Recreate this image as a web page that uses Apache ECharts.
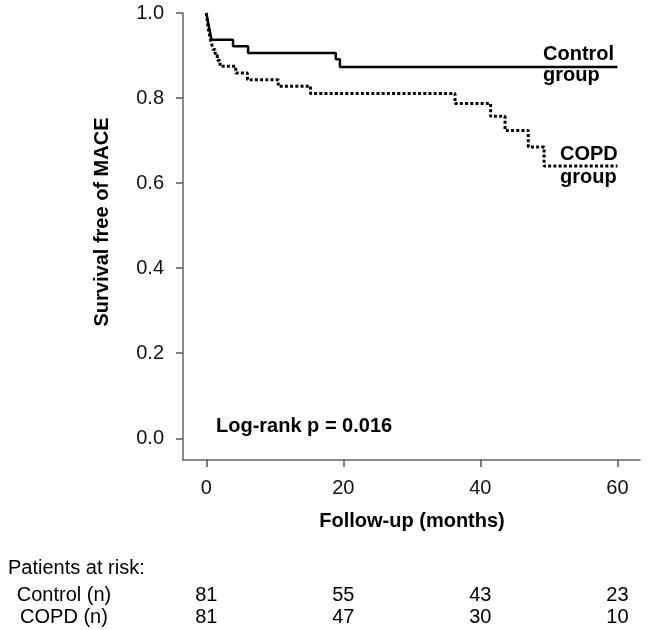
<!DOCTYPE html>
<html>
<head>
<meta charset="utf-8">
<script src="https://cdn.jsdelivr.net/npm/echarts@6/dist/echarts.min.js"></script>
<style>
html,body{margin:0;padding:0;background:#fff;}
#chart{width:649px;height:630px;}
</style>
</head>
<body>
<div id="chart"></div>
<script>
// Data
const controlTime = [0, 0.15, 0.3, 0.45, 0.6, 0.75, 3.9, 6.1, 18.9, 19.5, 60];
const controlSurv = [1, 0.988, 0.975, 0.963, 0.951, 0.937, 0.922, 0.906, 0.891, 0.873, 0.873];
const copdTime = [0, 0.1, 0.2, 0.3, 0.45, 0.6, 0.8, 1.0, 1.3, 1.6, 2.0, 4.3, 6.0, 10.5, 15.2, 36.3, 41.5, 43.6, 47.0, 49.3, 60];
const copdSurv = [1, 0.988, 0.975, 0.963, 0.951, 0.938, 0.926, 0.914, 0.901, 0.889, 0.875, 0.859, 0.843, 0.828, 0.811, 0.787, 0.757, 0.724, 0.685, 0.640, 0.640];
const xTicks = [0, 20, 40, 60];
const yTicks = [0, 0.2, 0.4, 0.6, 0.8, 1.0];
const riskMonths = [0, 20, 40, 60];
const controlAtRisk = [81, 55, 43, 23];
const copdAtRisk = [81, 47, 30, 10];

const FONT = 'Liberation Sans, Arial, sans-serif';
const chart = echarts.init(document.getElementById('chart'));

const zip = (a, b) => a.map((v, i) => [v, b[i]]);

const option = {
  animation: false,
  backgroundColor: '#fff',
  grid: { left: 183, right: 9, top: 13, bottom: 170, containLabel: false },
  xAxis: {
    type: 'value', min: -3.4, max: 63.3,
    axisLine: { show: true, onZero: false, lineStyle: { color: '#666', width: 1.5 } },
    axisTick: { show: true, length: 7, lineStyle: { color: '#555', width: 1.5 }, customValues: xTicks },
    axisLabel: { customValues: xTicks, color: '#111', fontSize: 20, fontFamily: FONT, margin: 18 },
    splitLine: { show: false }
  },
  yAxis: {
    type: 'value', min: -0.051, max: 1.0,
    axisLine: { show: true, onZero: false, lineStyle: { color: '#666', width: 1.5 } },
    axisTick: { show: true, length: 7, lineStyle: { color: '#555', width: 1.5 }, customValues: yTicks },
    axisLabel: { customValues: yTicks, color: '#111', fontSize: 20, fontFamily: FONT, margin: 19,
      formatter: v => v.toFixed(1) },
    splitLine: { show: false }
  },
  series: [
    { type: 'line', name: 'Control', step: 'end', data: zip(controlTime, controlSurv),
      showSymbol: false, lineStyle: { color: '#000', width: 2.5 } },
    { type: 'line', name: 'COPD', step: 'end', data: zip(copdTime, copdSurv),
      showSymbol: false, lineStyle: { color: '#000', width: 3, type: [3, 2.2] } }
  ]
};
chart.setOption(option);

const txt = (x, y, text, opts) => ({
  type: 'text', x, y,
  style: Object.assign({ text, fill: '#000', font: '20px ' + FONT, textAlign: 'left', textVerticalAlign: 'middle' }, opts || {})
});

const graphics = [
  txt(543, 54, 'Control', { font: 'bold 20px ' + FONT }),
  txt(543, 75, 'group', { font: 'bold 20px ' + FONT }),
  txt(560, 154, 'COPD', { font: 'bold 20px ' + FONT }),
  txt(560, 177, 'group', { font: 'bold 20px ' + FONT }),
  txt(216, 426, 'Log-rank p = 0.016', { font: 'bold 20px ' + FONT }),
  txt(412, 521, 'Follow-up (months)', { font: 'bold 20px ' + FONT, textAlign: 'center' }),
  { type: 'text', x: 102, y: 222, rotation: Math.PI / 2,
    style: { text: 'Survival free of MACE', fill: '#000', font: 'bold 20px ' + FONT, textAlign: 'center', textVerticalAlign: 'middle' } },
  txt(8, 568, 'Patients at risk:'),
  txt(64, 595, 'Control (n)', { textAlign: 'center' }),
  txt(64, 617, 'COPD (n)', { textAlign: 'center' })
];
riskMonths.forEach((m, i) => {
  const px = chart.convertToPixel({ xAxisIndex: 0 }, m);
  graphics.push(txt(px, 595, String(controlAtRisk[i]), { textAlign: 'center' }));
  graphics.push(txt(px, 617, String(copdAtRisk[i]), { textAlign: 'center' }));
});
chart.setOption({ graphic: graphics });
</script>
</body>
</html>
